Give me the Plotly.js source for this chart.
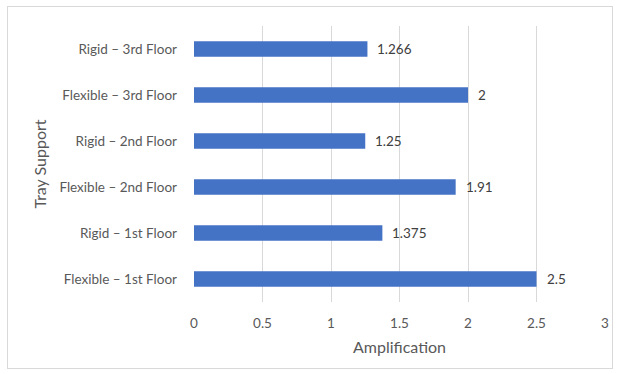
<!DOCTYPE html>
<html>
<head>
<meta charset="utf-8">
<script src="https://cdn.plot.ly/plotly-3.0.1.min.js"></script>
<style>
  html, body { margin: 0; padding: 0; background: #ffffff; }
  #frame { position: absolute; left: 7px; top: 6px; width: 604px; height: 361px; border: 1px solid #d9d9d9; }
  #chart { position: absolute; left: 0; top: 0; width: 618px; height: 374px; }
</style>
</head>
<body>
<div id="frame"></div>
<div id="chart"></div>
<script>
// Tray support configurations, bottom to top
const categories = [
  'Flexible – 1st Floor',
  'Rigid – 1st Floor',
  'Flexible – 2nd Floor',
  'Rigid – 2nd Floor',
  'Flexible – 3rd Floor',
  'Rigid – 3rd Floor'
];
const amplification = [2.5, 1.375, 1.91, 1.25, 2, 1.266];
const xTicks = [0, 0.5, 1, 1.5, 2, 2.5, 3];

const FONT = 'Lato, "Open Sans", sans-serif';
const GREY = '#595959';

const bars = {
  type: 'bar',
  orientation: 'h',
  x: amplification,
  y: categories,
  width: 0.34,
  marker: { color: '#4472C4' },
  hoverinfo: 'x+y'
};

// Value labels just past the end of each bar
const valueLabels = amplification.map((v, i) => ({
  x: v,
  y: categories[i],
  xref: 'x',
  yref: 'y',
  text: String(v),
  showarrow: false,
  xanchor: 'left',
  yanchor: 'middle',
  xshift: 8,
  font: { family: FONT, size: 13.5, color: '#404040' }
}));

const layout = {
  width: 618,
  height: 374,
  margin: { l: 194, r: 13, t: 26, b: 72 },
  paper_bgcolor: 'rgba(0,0,0,0)',
  plot_bgcolor: 'rgba(0,0,0,0)',
  showlegend: false,
  xaxis: {
    range: [0, 3],
    tickvals: xTicks,
    ticktext: xTicks.map(String),
    showgrid: true,
    gridcolor: '#d9d9d9',
    gridwidth: 1,
    zeroline: false,
    showline: false,
    ticks: '',
    ticklabelstandoff: 11,
    tickfont: { family: FONT, size: 13.5, color: GREY },
    fixedrange: true,
    title: { text: 'Amplification', font: { family: FONT, size: 16, color: GREY }, standoff: 12 }
  },
  yaxis: {
    type: 'category',
    categoryorder: 'array',
    categoryarray: categories,
    showgrid: false,
    zeroline: false,
    showline: false,
    ticks: '',
    ticklabelstandoff: 16,
    tickfont: { family: FONT, size: 13.5, color: GREY },
    fixedrange: true,
    title: { text: 'Tray Support', font: { family: FONT, size: 16, color: GREY }, standoff: 8 }
  },
  annotations: valueLabels
};

Plotly.newPlot('chart', [bars], layout, { displayModeBar: false, staticPlot: true });
</script>
</body>
</html>
